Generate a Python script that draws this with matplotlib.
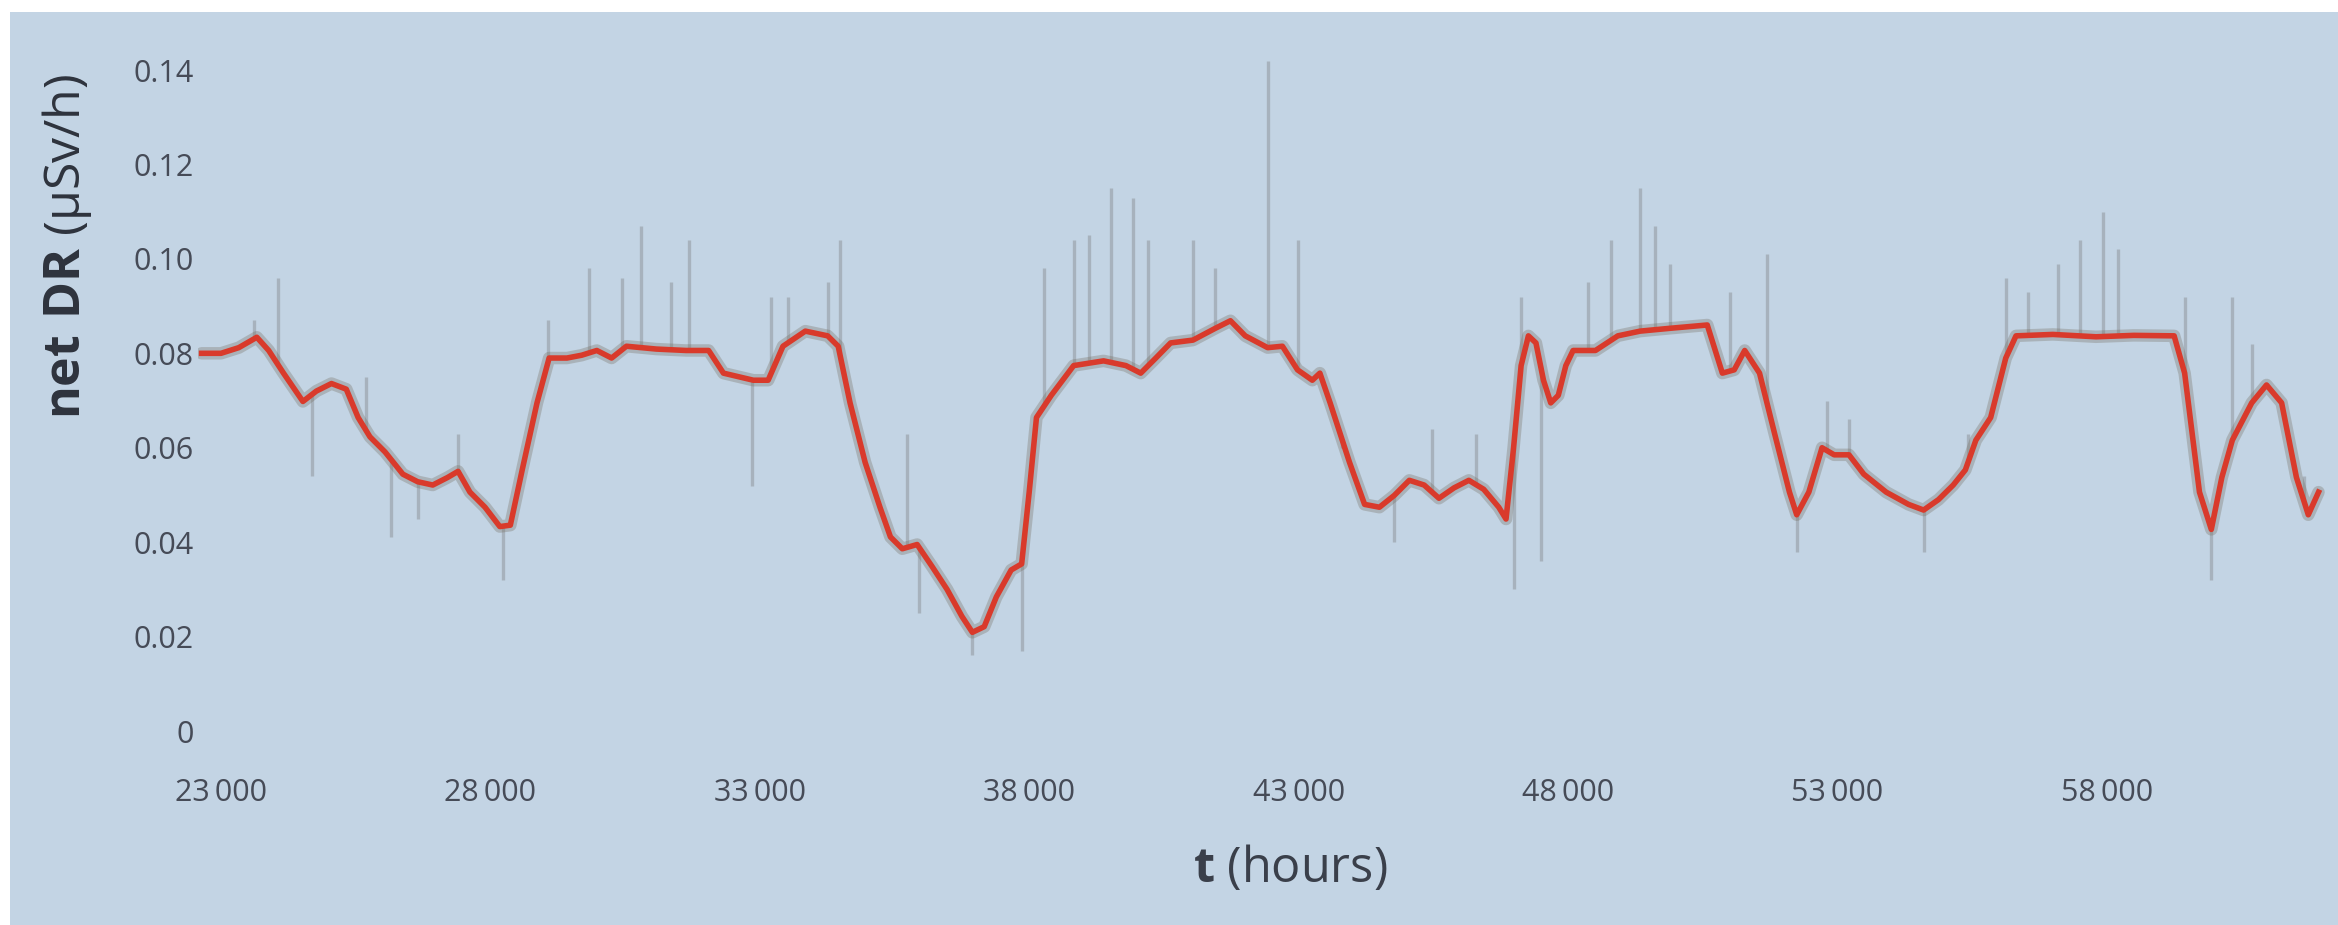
import numpy as np
import matplotlib
matplotlib.use("Agg")
import matplotlib.pyplot as plt
from matplotlib.patches import Rectangle

# smoothed dose rate (red curve)
t_smooth = [22640, 23000, 23330, 23665, 23885, 24160, 24520, 24770, 25050, 25325,
            25545, 25765, 26045, 26375, 26650, 26930, 27205, 27400, 27620, 27900,
            28175, 28370, 28590, 28865, 29090, 29420, 29695, 29975, 30250, 30525,
            31080, 31630, 32050, 32325, 32880, 33155, 33430, 33845, 34260, 34455,
            34675, 34955, 35230, 35425, 35645, 35920, 36200, 36475, 36750, 36945,
            37165, 37390, 37665, 37860, 38000, 38135, 38410, 38825, 39380, 39795,
            40070, 40350, 40625, 41040, 41455, 41735, 42010, 42425, 42700, 42980,
            43255, 43395, 43585, 43945, 44225, 44500, 44775, 45055, 45330, 45605,
            45885, 46160, 46435, 46715, 46850, 46990, 47130, 47265, 47405, 47545,
            47680, 47820, 47960, 48095, 48510, 48925, 49340, 49895, 50585, 50865,
            51085, 51280, 51555, 51830, 52110, 52245, 52470, 52715, 52940, 53215,
            53490, 53905, 54320, 54600, 54875, 55150, 55375, 55570, 55845, 56125,
            56315, 57000, 57800, 58500, 59250, 59445, 59720, 59940, 60135, 60330,
            60690, 60965, 61245, 61520, 61740, 61930]
dr_smooth = [0.0800, 0.0800, 0.0812, 0.0834, 0.0806, 0.0758, 0.0698, 0.0720, 0.0736, 0.0724,
             0.0664, 0.0623, 0.0591, 0.0544, 0.0528, 0.0521, 0.0537, 0.0550, 0.0506, 0.0474,
             0.0433, 0.0436, 0.0553, 0.0695, 0.0790, 0.0790, 0.0796, 0.0806, 0.0790, 0.0815,
             0.0809, 0.0806, 0.0806, 0.0758, 0.0743, 0.0743, 0.0815, 0.0847, 0.0837, 0.0815,
             0.0695, 0.0569, 0.0474, 0.0411, 0.0386, 0.0395, 0.0348, 0.0300, 0.0243, 0.0209,
             0.0221, 0.0284, 0.0341, 0.0354, 0.0506, 0.0664, 0.0711, 0.0774, 0.0784, 0.0774,
             0.0758, 0.0790, 0.0822, 0.0828, 0.0853, 0.0869, 0.0837, 0.0812, 0.0815, 0.0765,
             0.0743, 0.0758, 0.0695, 0.0569, 0.0480, 0.0474, 0.0499, 0.0531, 0.0521, 0.0493,
             0.0515, 0.0531, 0.0512, 0.0474, 0.0449, 0.0600, 0.0774, 0.0837, 0.0822, 0.0743,
             0.0695, 0.0711, 0.0774, 0.0806, 0.0806, 0.0837, 0.0847, 0.0853, 0.0860, 0.0758,
             0.0765, 0.0806, 0.0758, 0.0632, 0.0506, 0.0458, 0.0506, 0.0600, 0.0585, 0.0585,
             0.0544, 0.0506, 0.0480, 0.0468, 0.0490, 0.0521, 0.0553, 0.0616, 0.0664, 0.0790,
             0.0837, 0.0840, 0.0835, 0.0838, 0.0837, 0.0758, 0.0506, 0.0427, 0.0537, 0.0616,
             0.0695, 0.0733, 0.0695, 0.0537, 0.0458, 0.0506]

# raw-data excursions (tip of each spike)
spike_t = [23610, 24050, 24690, 25685, 26155, 26650, 27400, 28230, 29060, 29835,
           30445, 30800, 31355, 31690, 32850, 33210, 33515, 34260, 34480, 35730,
           35950, 36945, 37860, 38275, 38825, 39105, 39520, 39935, 40210, 41040,
           41455, 42425, 42980, 43810, 44775, 45470, 46300, 46990, 47130, 47490,
           48375, 48790, 49340, 49620, 49895, 51000, 51690, 52245, 52800, 53215,
           54600, 55430, 56125, 56540, 57095, 57510, 57925, 58200, 59445, 59940,
           60330, 60690, 61655]
spike_tip = [0.087, 0.096, 0.054, 0.075, 0.041, 0.045, 0.063, 0.032, 0.087, 0.098,
             0.096, 0.107, 0.095, 0.104, 0.052, 0.092, 0.092, 0.095, 0.104, 0.063,
             0.025, 0.016, 0.017, 0.098, 0.104, 0.105, 0.115, 0.113, 0.104, 0.104,
             0.098, 0.142, 0.104, 0.060, 0.040, 0.064, 0.063, 0.030, 0.092, 0.036,
             0.095, 0.104, 0.115, 0.107, 0.099, 0.093, 0.101, 0.038, 0.070, 0.066,
             0.038, 0.063, 0.096, 0.093, 0.099, 0.104, 0.110, 0.102, 0.092, 0.032,
             0.092, 0.082, 0.054]

x_ticks = [23000, 28000, 33000, 38000, 43000, 48000, 53000, 58000]
y_ticks = [0, 0.02, 0.04, 0.06, 0.08, 0.10, 0.12, 0.14]
y_labels = ['0', '0.02', '0.04', '0.06', '0.08', '0.10', '0.12', '0.14']

bg = '#c3d4e4'
plt.rcParams['font.family'] = ['Open Sans', 'DejaVu Sans']
plt.rcParams['mathtext.fontset'] = 'custom'
plt.rcParams['mathtext.rm'] = 'Open Sans'
plt.rcParams['mathtext.bf'] = 'Open Sans:bold'

W, H = 2338, 925
fig = plt.figure(figsize=(W/100, H/100), dpi=100, facecolor='white')
fig.patches.append(Rectangle((10/W, 0), 1, (H-12)/H, transform=fig.transFigure,
                             facecolor=bg, edgecolor='none', zorder=-10))
ax = fig.add_axes([198/W, 0.1842, 2127/W, 0.7656])
ax.set_facecolor('none')

base = np.interp(spike_t, t_smooth, dr_smooth)
ax.vlines(spike_t, base, spike_tip, color='#6e6e6e', alpha=0.33, lw=2.4)
ax.plot(t_smooth, dr_smooth, color='#6f6656', lw=9, alpha=0.3, solid_capstyle='round')
ax.plot(t_smooth, dr_smooth, color='#d93a2b', lw=4, solid_joinstyle='round')

ax.set_xlim(22573, 62050)
ax.set_ylim(-0.005, 0.145)
ax.set_xticks(x_ticks)
ax.set_xticklabels([f"{v//1000}\u2009{v%1000:03d}" for v in x_ticks])
ax.set_yticks(y_ticks)
ax.set_yticklabels(y_labels)
ax.tick_params(length=0, labelsize=22, labelcolor='#464b57')
ax.tick_params(axis='x', pad=17)
ax.tick_params(axis='y', pad=3)
for s in ax.spines.values():
    s.set_visible(False)

fig.text(1290/W, 1 - 869/H, r'$\mathbf{t}$ (hours)', ha='center', va='center',
         fontsize=35, color='#3a3f4a')
fig.text(67/W, 1 - 246/H, r'$\mathbf{net\ DR}$ (μSv/h)', ha='center', va='center',
         rotation=90, fontsize=36, color='#2e333d')

fig.savefig('out.png', dpi=100, facecolor='white')
